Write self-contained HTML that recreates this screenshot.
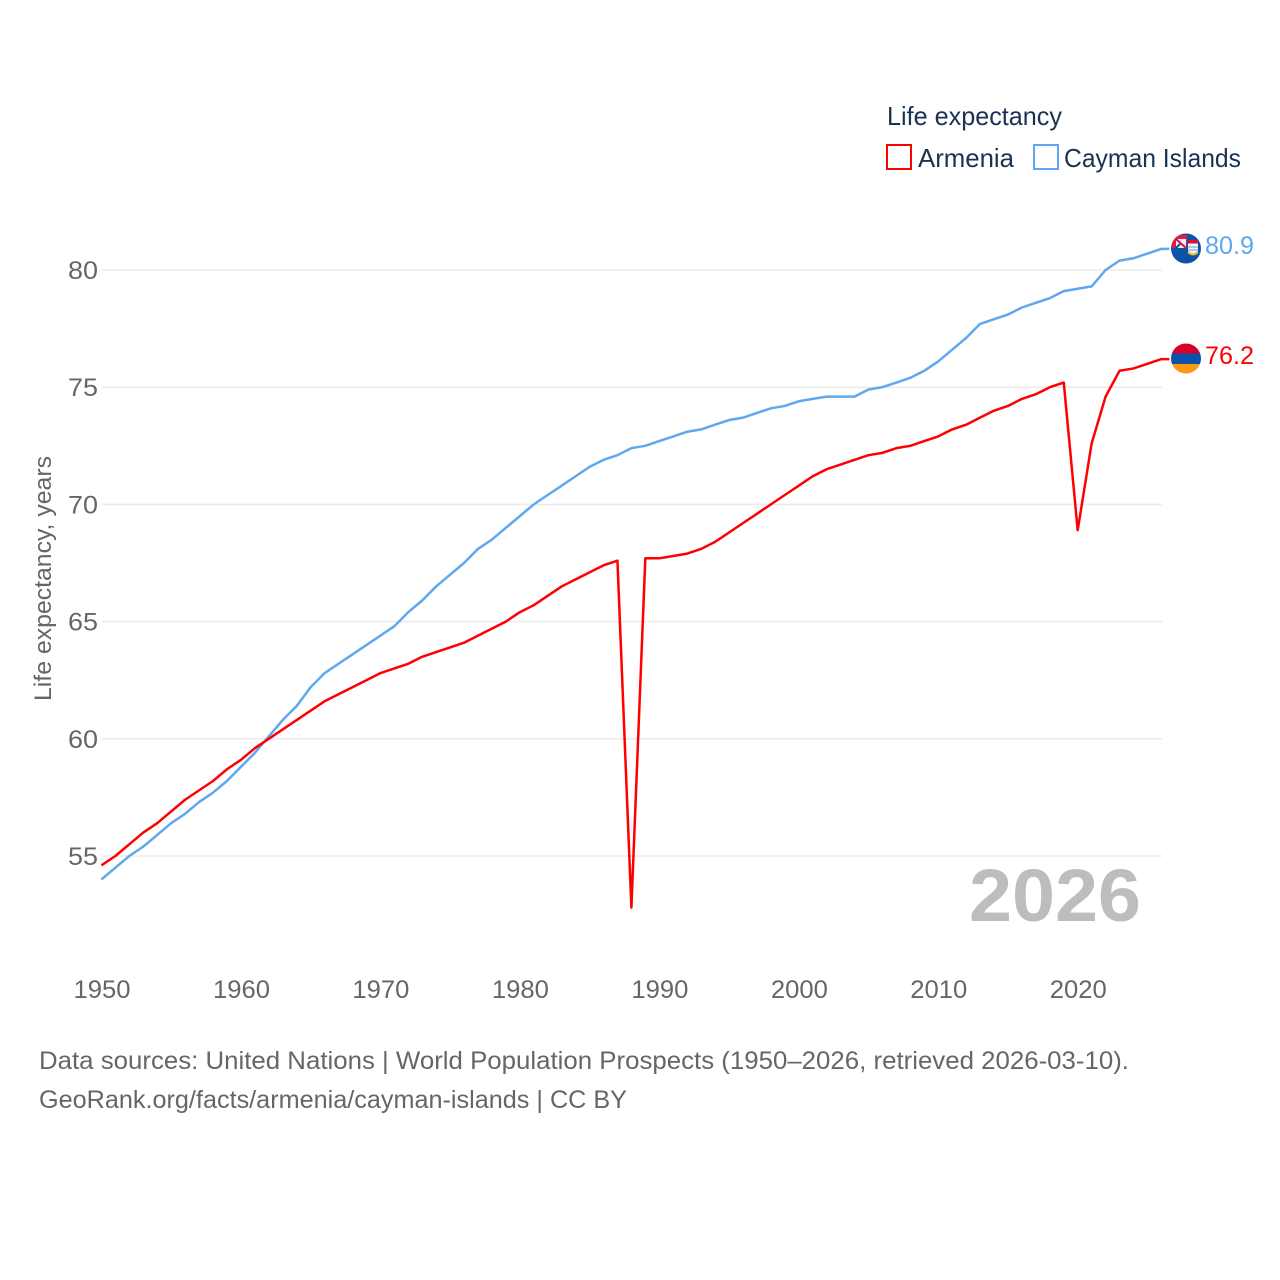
<!DOCTYPE html>
<html lang="en">
<head>
<meta charset="utf-8">
<title>Life expectancy: Armenia and Cayman Islands</title>
<style>
html,body{margin:0;padding:0;background:#fff;width:1280px;height:1280px;overflow:hidden}
svg{display:block}
text{font-family:"Liberation Sans",sans-serif}
</style>
</head>
<body>
<svg id="chart" width="1280" height="1280" viewBox="0 0 1280 1280" xmlns="http://www.w3.org/2000/svg">
  <g id="grid"></g>
  <g id="yticks"></g>
  <g id="xticks"></g>
  <text transform="translate(51,701) rotate(-90)" font-size="24" fill="#666" textLength="245" lengthAdjust="spacingAndGlyphs">Life expectancy, years</text>
  <text x="969" y="921" font-size="74" font-weight="bold" fill="#bdbdbd" textLength="172" lengthAdjust="spacingAndGlyphs">2026</text>
  <g id="lines"></g>

  <g>
    <text x="887" y="125" font-size="26" fill="#1b3252" textLength="175" lengthAdjust="spacingAndGlyphs">Life expectancy</text>
    <rect x="887" y="145" width="24" height="24" fill="#fff" stroke="#ff0000" stroke-width="2"/>
    <text x="918" y="167" font-size="26" fill="#1b3252" textLength="96" lengthAdjust="spacingAndGlyphs">Armenia</text>
    <rect x="1034" y="145" width="24" height="24" fill="#fff" stroke="#5fa8ef" stroke-width="2"/>
    <text x="1064" y="167" font-size="26" fill="#1b3252" textLength="177" lengthAdjust="spacingAndGlyphs">Cayman Islands</text>
  </g>

  <defs>
    <clipPath id="flagClipA"><circle cx="1186" cy="358.5" r="15"/></clipPath>
    <clipPath id="flagClipC"><circle cx="1186" cy="248.5" r="15"/></clipPath>
  </defs>
  <g clip-path="url(#flagClipC)">
    <rect x="1171" y="233" width="30" height="31" fill="#0b52a8"/>
    <rect x="1172" y="235" width="15" height="13" fill="#e21c3f"/>
    <rect x="1176" y="239" width="10" height="9" fill="#eef0f4"/>
    <path d="M1176 239 L1186 248" stroke="#d8123c" stroke-width="2" fill="none"/>
    <path d="M1180 244 L1176 248" stroke="#0b52a8" stroke-width="2" fill="none"/>
    <rect x="1188" y="240" width="10" height="3.5" fill="#d8123c"/>
    <path d="M1188 243.5 H1198 V251 Q1193 256 1188 251 Z" fill="#f3f3f3"/>
    <path d="M1188 247 H1198 M1188 250 H1198" stroke="#5fa8ef" stroke-width="1"/>
    <path d="M1188 252 Q1193 257 1198 252" stroke="#e8c233" stroke-width="2" fill="none"/>
  </g>
  <g clip-path="url(#flagClipA)">
    <rect x="1171" y="343" width="30" height="11" fill="#d8002b"/>
    <rect x="1171" y="353.5" width="30" height="10.5" fill="#0b52a8"/>
    <rect x="1171" y="364" width="30" height="11" fill="#ff9811"/>
  </g>

  <text id="endC" x="1205" y="254" font-size="25" fill="#5fa8ef" textLength="49" lengthAdjust="spacingAndGlyphs"></text>
  <text id="endA" x="1205" y="364" font-size="25" fill="#ff0000" textLength="49" lengthAdjust="spacingAndGlyphs"></text>

  <text x="39" y="1069" font-size="25" fill="#666" textLength="1090" lengthAdjust="spacingAndGlyphs">Data sources: United Nations | World Population Prospects (1950–2026, retrieved 2026-03-10).</text>
  <text x="39" y="1108" font-size="25" fill="#666" textLength="588" lengthAdjust="spacingAndGlyphs">GeoRank.org/facts/armenia/cayman-islands | CC BY</text>
</svg>
<script>
const yearStart = 1950;
const armeniaValues = [54.6,55.0,55.5,56.0,56.4,56.9,57.4,57.8,58.2,58.7,59.1,59.6,60.0,60.4,60.8,61.2,61.6,61.9,62.2,62.5,62.8,63.0,63.2,63.5,63.7,63.9,64.1,64.4,64.7,65.0,65.4,65.7,66.1,66.5,66.8,67.1,67.4,67.6,52.8,67.7,67.7,67.8,67.9,68.1,68.4,68.8,69.2,69.6,70.0,70.4,70.8,71.2,71.5,71.7,71.9,72.1,72.2,72.4,72.5,72.7,72.9,73.2,73.4,73.7,74.0,74.2,74.5,74.7,75.0,75.2,68.9,72.6,74.6,75.7,75.8,76.0,76.2];
const caymanValues = [54.0,54.5,55.0,55.4,55.9,56.4,56.8,57.3,57.7,58.2,58.8,59.4,60.1,60.8,61.4,62.2,62.8,63.2,63.6,64.0,64.4,64.8,65.4,65.9,66.5,67.0,67.5,68.1,68.5,69.0,69.5,70.0,70.4,70.8,71.2,71.6,71.9,72.1,72.4,72.5,72.7,72.9,73.1,73.2,73.4,73.6,73.7,73.9,74.1,74.2,74.4,74.5,74.6,74.6,74.6,74.9,75.0,75.2,75.4,75.7,76.1,76.6,77.1,77.7,77.9,78.1,78.4,78.6,78.8,79.1,79.2,79.3,80.0,80.4,80.5,80.7,80.9];
const yTickValues = [55,60,65,70,75,80];
const xTickValues = [1950,1960,1970,1980,1990,2000,2010,2020];

const NS = 'http://www.w3.org/2000/svg';
function xScale(year){ return 101.4 + (year - 1950) * 13.947; }
function yScale(v){ return 270 + (80 - v) * 23.44; }
function mk(tag, parent, attrs){
  const el = document.createElementNS(NS, tag);
  for (const k in attrs) el.setAttribute(k, attrs[k]);
  parent.appendChild(el);
  return el;
}
const grid = document.getElementById('grid');
const yticks = document.getElementById('yticks');
const xticks = document.getElementById('xticks');
const lines = document.getElementById('lines');

yTickValues.forEach(function(v){
  const l = mk('line', grid, {x1:102, x2:1162, y1:yScale(v), y2:yScale(v), stroke:'#ebebeb', 'stroke-width':1.5});
  
  
  const t = mk('text', yticks, {x:98, y:yScale(v)+9, 'text-anchor':'end', 'font-size':25, fill:'#666', textLength:30, lengthAdjust:'spacingAndGlyphs'});
  t.textContent = v;
  
  
});
xTickValues.forEach(function(v){
  const t = mk('text', xticks, {x:xScale(v)-27.9, y:998, 'font-size':25, fill:'#666', textLength:57, lengthAdjust:'spacingAndGlyphs'});
  t.textContent = v;
  
  
});

function linePoints(vals){
  const pts = vals.map(function(v, i){ return xScale(yearStart + i).toFixed(2) + ',' + yScale(v).toFixed(2); });
  const last = vals[vals.length - 1];
  pts.push((xScale(yearStart + vals.length - 1) + 8).toFixed(2) + ',' + yScale(last).toFixed(2));
  return pts.join(' ');
}
const lineC = mk('polyline', lines, {points:linePoints(caymanValues), fill:'none', stroke:'#5fa8ef', 'stroke-width':2.5, 'stroke-linejoin':'round'});


const lineA = mk('polyline', lines, {points:linePoints(armeniaValues), fill:'none', stroke:'#ff0000', 'stroke-width':2.5, 'stroke-linejoin':'round'});



document.getElementById('endC').textContent = caymanValues[caymanValues.length - 1].toFixed(1);
document.getElementById('endA').textContent = armeniaValues[armeniaValues.length - 1].toFixed(1);
</script>
</body>
</html>
